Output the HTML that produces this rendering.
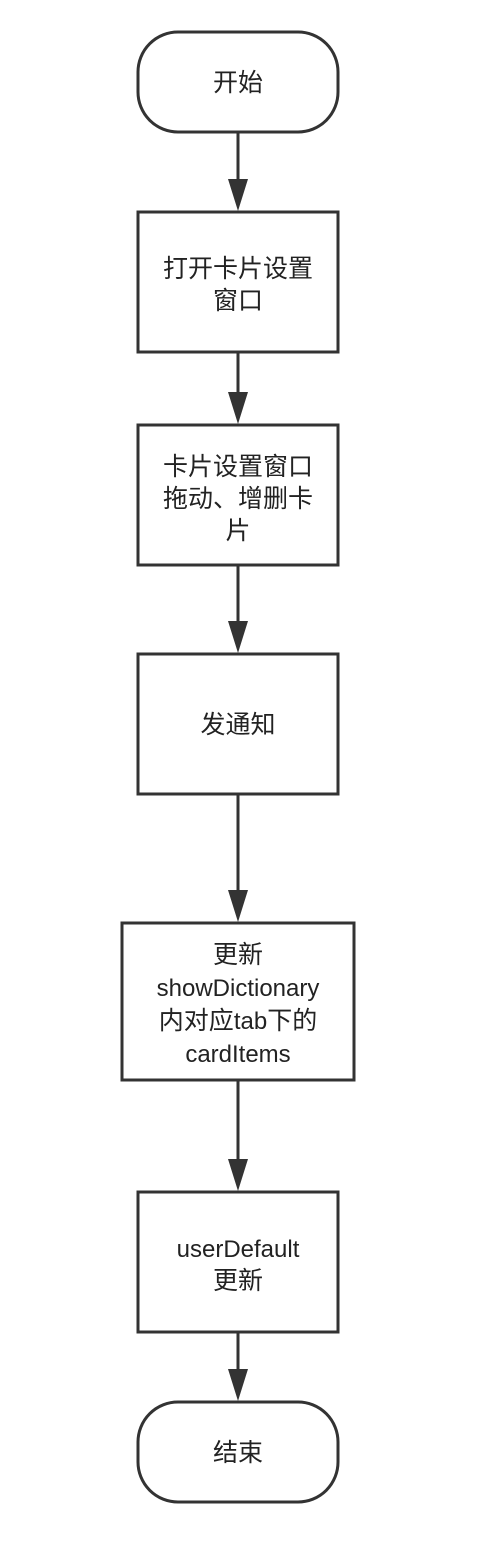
<!DOCTYPE html>
<html><head><meta charset="utf-8"><style>
html,body{margin:0;padding:0;background:#fff;}
svg text{font-family:"Liberation Sans","Noto Sans CJK SC",sans-serif;font-size:25px;fill:#222;text-anchor:middle;}
svg text.l{font-size:24px;}
</style></head><body>
<svg width="488" height="1546" viewBox="0 0 488 1546" xmlns="http://www.w3.org/2000/svg">
<g fill="#fff" stroke="#333" stroke-width="3">
<rect x="138" y="32" width="200" height="100" rx="40" ry="40"/>
<rect x="138" y="212" width="200" height="140"/>
<rect x="138" y="425" width="200" height="140"/>
<rect x="138" y="654" width="200" height="140"/>
<rect x="122" y="923" width="232" height="157"/>
<rect x="138" y="1192" width="200" height="140"/>
<rect x="138" y="1402" width="200" height="100" rx="40" ry="40"/>
</g>
<g stroke="#333" stroke-width="3">
<line x1="238" y1="132" x2="238" y2="182"/>
<line x1="238" y1="352" x2="238" y2="395"/>
<line x1="238" y1="565" x2="238" y2="624"/>
<line x1="238" y1="794" x2="238" y2="893"/>
<line x1="238" y1="1080" x2="238" y2="1162"/>
<line x1="238" y1="1332" x2="238" y2="1372"/>
</g>
<g fill="#333">
<polygon points="228,179 248,179 238,211"/>
<polygon points="228,392 248,392 238,424"/>
<polygon points="228,621 248,621 238,653"/>
<polygon points="228,890 248,890 238,922"/>
<polygon points="228,1159 248,1159 238,1191"/>
<polygon points="228,1369 248,1369 238,1401"/>
</g>
<text x="238" y="91">开始</text>
<text x="238" y="277">打开卡片设置</text>
<text x="238" y="309">窗口</text>
<text x="238" y="475">卡片设置窗口</text>
<text x="238" y="507">拖动、增删卡</text>
<text x="238" y="539">片</text>
<text x="238" y="733">发通知</text>
<text x="238" y="963">更新</text>
<text class="l" x="238" y="996">showDictionary</text>
<text x="238" y="1029">内对应<tspan font-size="24">tab</tspan>下的</text>
<text class="l" x="238" y="1062">cardItems</text>
<text class="l" x="238" y="1257">userDefault</text>
<text x="238" y="1289">更新</text>
<text x="238" y="1461">结束</text>
</svg>
</body></html>
